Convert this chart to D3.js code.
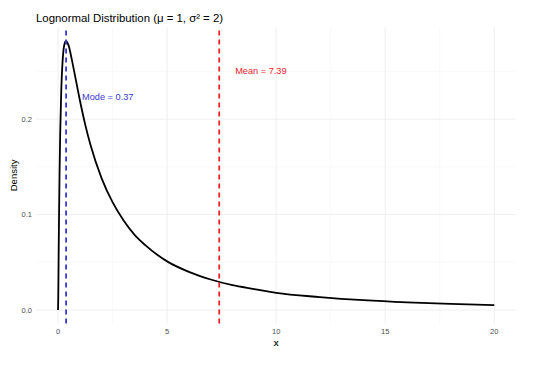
<!DOCTYPE html>
<html>
<head>
<meta charset="utf-8">
<title>Lognormal Distribution</title>
<style>
    body { margin: 0; background: #fff; }
    text { font-family: "Liberation Sans", Arial, sans-serif; }
    .grid line { stroke: #ebebeb; }
    .tick-label { fill: #4d4d4d; font-size: 7.5px; }
</style>
</head>
<body>
<script src="https://cdn.jsdelivr.net/npm/d3@7"></script>
<script>

// density curve (x, density)
var xs = [0, 0.01, 0.02, 0.03, 0.04, 0.05, 0.07, 0.1, 0.15, 0.2, 0.25, 0.3, 0.37, 0.45, 0.5, 0.6, 0.75,
          1, 1.25, 1.5, 2, 2.5, 3, 3.5, 4, 5, 6, 7, 8, 9, 10, 12, 14, 16, 18, 20];
var dens = [0, 0.011, 0.034, 0.059, 0.082, 0.104, 0.142, 0.185, 0.231, 0.257, 0.272, 0.279, 0.282, 0.279, 0.276, 0.266, 0.249,
            0.220, 0.194, 0.172, 0.138, 0.113, 0.094, 0.079, 0.068, 0.051, 0.040, 0.032, 0.026, 0.022, 0.018, 0.0136, 0.0103, 0.0080, 0.0064, 0.0052];

var modeVal = 0.37;
var meanVal = 7.39;

var xTicks = [0, 5, 10, 15, 20];
var xMinor = [2.5, 7.5, 12.5, 17.5];
var yTicks = [0, 0.1, 0.2];
var yMinor = [0.05, 0.15, 0.25];

var width = 541, height = 373;

var svg = d3.select("body").append("svg")
    .attr("width", width)
    .attr("height", height);

var x = d3.scaleLinear().domain([-1, 21]).range([36.2, 516.1]);
var y = d3.scaleLinear().domain([-0.0141, 0.2962]).range([323.5, 27.3]);

// gridlines
var grid = svg.append("g").attr("class", "grid");
grid.selectAll(".vmin").data(xMinor).enter().append("line")
    .attr("x1", d => x(d)).attr("x2", d => x(d))
    .attr("y1", y.range()[0]).attr("y2", y.range()[1])
    .style("stroke-width", 0.5).style("stroke", "#f2f2f2");
grid.selectAll(".hmin").data(yMinor).enter().append("line")
    .attr("y1", d => y(d)).attr("y2", d => y(d))
    .attr("x1", x.range()[0]).attr("x2", x.range()[1])
    .style("stroke-width", 0.5).style("stroke", "#f2f2f2");
grid.selectAll(".vmaj").data(xTicks).enter().append("line")
    .attr("x1", d => x(d)).attr("x2", d => x(d))
    .attr("y1", y.range()[0]).attr("y2", y.range()[1])
    .style("stroke-width", 0.8);
grid.selectAll(".hmaj").data(yTicks).enter().append("line")
    .attr("y1", d => y(d)).attr("y2", d => y(d))
    .attr("x1", x.range()[0]).attr("x2", x.range()[1])
    .style("stroke-width", 0.8);

// tick labels
svg.append("g").selectAll("text").data(xTicks).enter().append("text")
    .attr("class", "tick-label")
    .attr("x", d => x(d)).attr("y", 334)
    .attr("text-anchor", "middle")
    .text(d => d);
svg.append("g").selectAll("text").data(yTicks).enter().append("text")
    .attr("class", "tick-label")
    .attr("x", 32).attr("y", d => y(d) + 2.7)
    .attr("text-anchor", "end")
    .text(d => d3.format(".1f")(d));

// axis titles
svg.append("text")
    .attr("x", x(10)).attr("y", 346)
    .attr("text-anchor", "middle")
    .style("font-size", "9.5px").style("font-weight", "bold").style("fill", "#333")
    .text("x");
svg.append("text")
    .attr("transform", "translate(17," + ((y.range()[0] + y.range()[1]) / 2) + ") rotate(-90)")
    .attr("text-anchor", "middle")
    .style("font-size", "9.5px").style("fill", "#000")
    .text("Density");

// title
svg.append("text")
    .attr("x", 36).attr("y", 22)
    .style("font-size", "11.4px").style("fill", "#000")
    .text("Lognormal Distribution (\u03bc = 1, \u03c3\u00b2 = 2)");

// density curve
var pts = xs.map((d, i) => [d, dens[i]]);
var line = d3.line()
    .x(d => x(d[0]))
    .y(d => y(d[1]))
    .curve(d3.curveMonotoneX);

svg.append("path")
    .datum(pts)
    .attr("d", line)
    .style("fill", "none")
    .style("stroke", "#000")
    .style("stroke-width", 1.8);

// reference lines
var vlines = [
    { v: modeVal, color: "#3838d0", label: "Mode = " + modeVal, ly: 0.223 },
    { v: meanVal, color: "#e8232a", label: "Mean = " + meanVal, ly: 0.251 }
];

svg.selectAll(".vline").data(vlines).enter().append("line")
    .attr("x1", d => x(d.v)).attr("x2", d => x(d.v))
    .attr("y1", y.range()[0]).attr("y2", y.range()[1])
    .style("stroke", d => d.color)
    .style("stroke-width", 1.8)
    .style("stroke-dasharray", "5,4");

svg.selectAll(".vlabel").data(vlines).enter().append("text")
    .attr("x", d => x(d.v) + 16)
    .attr("y", d => y(d.ly) + 3.3)
    .style("font-size", "9.2px")
    .style("fill", d => d.color)
    .text(d => d.label);

</script>
</body>
</html>
